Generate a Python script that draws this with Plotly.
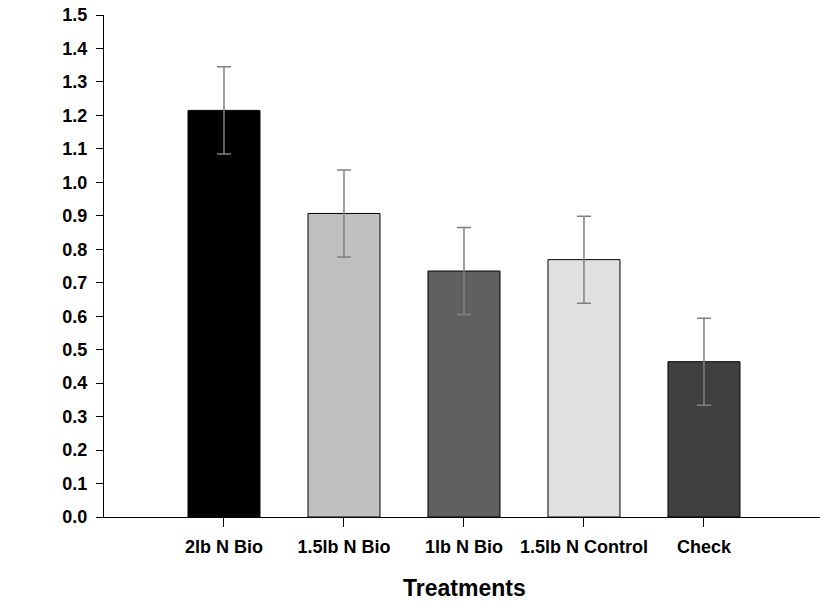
import plotly.graph_objects as go

categories = ["2lb N Bio", "1.5lb N Bio", "1lb N Bio", "1.5lb N Control", "Check"]
values = [1.215, 0.907, 0.735, 0.769, 0.464]
errors = [0.13, 0.13, 0.13, 0.13, 0.13]
bar_colors = ["#000000", "#c0c0c0", "#606060", "#e0e0e0", "#404040"]
y_ticks = [round(i * 0.1, 1) for i in range(16)]
x_title = "Treatments"

fig = go.Figure()
fig.add_trace(go.Bar(
    x=list(range(len(categories))),
    y=values,
    width=0.6,
    marker=dict(color=bar_colors, line=dict(color="#000000", width=1)),
    error_y=dict(type="data", array=errors, visible=True, color="#808080", thickness=1.5, width=7),
))

fig.update_layout(
    width=820, height=603,
    margin=dict(l=104, r=0, t=15, b=86),
    paper_bgcolor="white", plot_bgcolor="white",
    showlegend=False,
    font=dict(family="Liberation Sans, Arial, sans-serif", color="black"),
    xaxis=dict(
        range=[-1, 4.967],
        automargin=False,
        tickmode="array",
        tickvals=list(range(len(categories))),
        ticktext=[f"<b>{c}</b>" for c in categories],
        ticks="outside", ticklen=9, tickcolor="black", tickwidth=1,
        showline=True, linecolor="black", linewidth=1,
        showgrid=False, zeroline=False,
        tickfont=dict(size=18),
        ticklabelstandoff=4,
        ticklabeloverflow="allow",
    ),
    yaxis=dict(
        range=[0, 1.5],
        automargin=False,
        tickmode="array",
        tickvals=y_ticks,
        ticktext=[f"<b>{v:.1f}</b>" for v in y_ticks],
        ticks="outside", ticklen=7, tickcolor="black", tickwidth=1,
        showline=True, linecolor="black", linewidth=1,
        showgrid=False, zeroline=False,
        tickfont=dict(size=18),
        ticklabelstandoff=5,
        ticklabeloverflow="allow",
    ),
    annotations=[dict(
        text=f"<b>{x_title}</b>", xref="paper", yref="paper",
        x=0.503, y=-0.141, xanchor="center", yanchor="middle",
        showarrow=False, font=dict(size=23),
    )],
)

fig.write_html("out.html", config={"displayModeBar": False},
               post_script="document.body.style.margin='0';")
